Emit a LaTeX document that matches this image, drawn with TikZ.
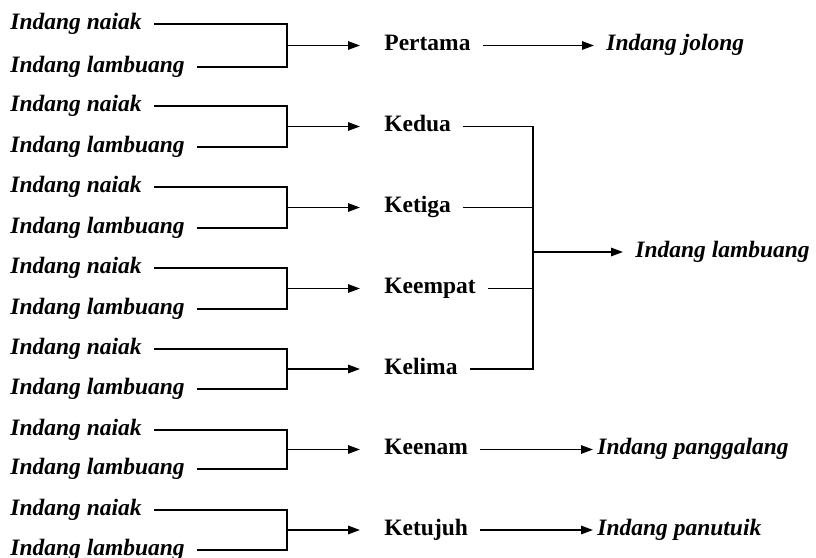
\documentclass[tikz,border=0pt]{standalone}
\usepackage{fontspec}
\setmainfont{Liberation Serif}
\usetikzlibrary{arrows.meta,calc,positioning}

\begin{document}
\begin{tikzpicture}[x=0.5pt,y=-0.5pt,
    lbl/.style={inner ysep=0pt,inner xsep=6pt,text height=8pt,text depth=2.6pt,anchor=west,
        font=\fontsize{11.75}{14}\selectfont\bfseries},
    wire/.style={line width=0.85pt},
    arr/.style={wire,-{Triangle[length=6pt,width=4.2pt]}}]
    \useasboundingbox (0,0) rectangle (816,558);
    % Pairs of parents on the left, joined by a bracket
    \foreach \i/\t/\b/\txt in {1/24/67/Pertama,2/106/147/Kedua,3/187/228/Ketiga,
        4/268/309/Keempat,5/349/389/Kelima,6/430/469/Keenam,7/510/550/Ketujuh}{
        \node[lbl] (n\i) at (-2,\t) {\itshape Indang naiak};
        \node[lbl] (l\i) at (-2,\b) {\itshape Indang lambuang};
        \coordinate (j\i) at (287,{(\t+\b)/2});
        \node[lbl] (m\i) at (372,{(\t+\b)/2}) {\txt};
        \draw[wire] (n\i.east) -| (j\i) |- (l\i.east);
        \draw[arr,shorten >=6pt] (j\i) -- (m\i.west);
    }
    % Results on the right
    \node[lbl] (r1) at (594,45.5) {\itshape Indang jolong};
    \draw[arr] (m1) -- (r1);
    \node[lbl,inner xsep=2pt] (r6) at (593,449.5) {\itshape Indang panggalang};
    \draw[arr] (m6) -- (r6);
    \node[lbl,inner xsep=2pt] (r7) at (593,530) {\itshape Indang panutuik};
    \draw[arr] (m7) -- (r7);
    % Second to fifth joined into one
    \coordinate (k) at (533,252);
    \node[lbl] (rL) at (623,252) {\itshape Indang lambuang};
    \draw[wire] (m2.east) -| (k) |- (m5.east);
    \draw[wire] (m3.east) -- (m3.east -| k);
    \draw[wire] (m4.east) -- (m4.east -| k);
    \draw[arr] (k) -- (rL);
\end{tikzpicture}
\end{document}
